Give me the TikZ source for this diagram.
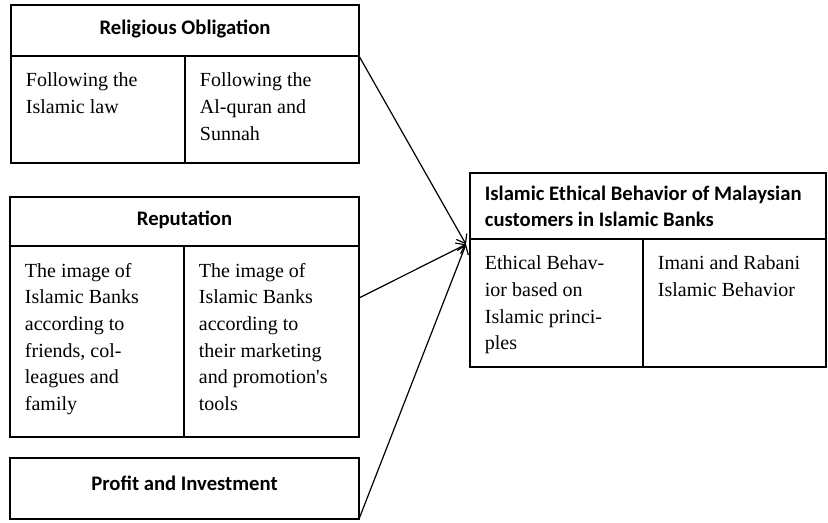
\documentclass[tikz,border=0pt]{standalone}
\usepackage{fontspec}
\usetikzlibrary{fit,arrows.meta}
\newfontfamily\headfont{Carlito}
\newfontfamily\bodyfont{Liberation Serif}
\tikzset{
  box/.style={draw, line width=1.6pt, inner sep=0pt, outer sep=0pt},
  head/.style={inner sep=0pt, align=left,
    font=\headfont\bfseries\fontsize{15.5pt}{19.5pt}\selectfont},
  body/.style={anchor=north west, inner sep=0pt, align=left,
    font=\bodyfont\fontsize{15pt}{20pt}\selectfont},
  link/.style={line width=0.9pt, -{Straight Barb[length=6pt,width=9pt]}}
}
\begin{document}
\begin{tikzpicture}[x=0.75pt,y=-0.75pt]
      \useasboundingbox (0,0) rectangle (828,522);
      \node[box, fit={(11,5) (359,56)}] (ro-h) {};
      \node[box, fit={(11,56) (185,163)}] (ro-l) {};
      \node[box, fit={(185,56) (359,163)}] (ro-r) {};
      \node[box, fit={(10,197) (359,246)}] (rep-h) {};
      \node[box, fit={(10,246) (184,437)}] (rep-l) {};
      \node[box, fit={(184,246) (359,437)}] (rep-r) {};
      \node[box, fit={(10,458) (359,519)}] (pi) {};
      \node[box, fit={(470,173) (826,239)}] (ieb-h) {};
      \node[box, fit={(470,239) (643,367)}] (ieb-l) {};
      \node[box, fit={(643,239) (826,367)}] (ieb-r) {};
      \node[head] (ro-ht) at ([yshift=1pt]ro-h) {Religious Obligation};
      \node[head] (rep-ht) at ([yshift=1pt]rep-h) {Reputation};
      \node[head] (pi-ht) at ([yshift=4pt]pi) {Profit and Investment};
      \node[head, anchor=north west] (ieb-ht)
        at ([xshift=11pt,yshift=-9.5pt]ieb-h.north west)
        {Islamic Ethical Behavior of Malaysian\\customers in Islamic Banks};
      \node[body] (ro-lt) at ([xshift=11pt,yshift=-12.5pt]ro-l.north west)
        {Following the\\Islamic law};
      \node[body] (ro-rt) at ([xshift=11pt,yshift=-12.5pt]ro-r.north west)
        {Following the\\Al-quran and\\Sunnah};
      \node[body] (rep-lt) at ([xshift=11pt,yshift=-12.5pt]rep-l.north west)
        {The image of\\Islamic Banks\\according to\\friends, col-\\leagues and\\family};
      \node[body] (rep-rt) at ([xshift=11pt,yshift=-12.5pt]rep-r.north west)
        {The image of\\Islamic Banks\\according to\\their marketing\\and promotion's\\tools};
      \node[body] (ieb-lt) at ([xshift=11pt,yshift=-12.5pt]ieb-l.north west)
        {Ethical Behav-\\ior based on\\Islamic princi-\\ples};
      \node[body] (ieb-rt) at ([xshift=11pt,yshift=-12.5pt]ieb-r.north west)
        {Imani and Rabani\\Islamic Behavior};
      \coordinate (in) at ([xshift=-3pt,yshift=-4pt]ieb-l.north west);
      \begin{scope}[link]
        \draw (ro-h.south east) to (in);
        \draw ([yshift=-39pt]rep-r.north east) to (in);
        \draw (pi.south east) to (in);
      \end{scope}
    \end{tikzpicture}
\end{document}
